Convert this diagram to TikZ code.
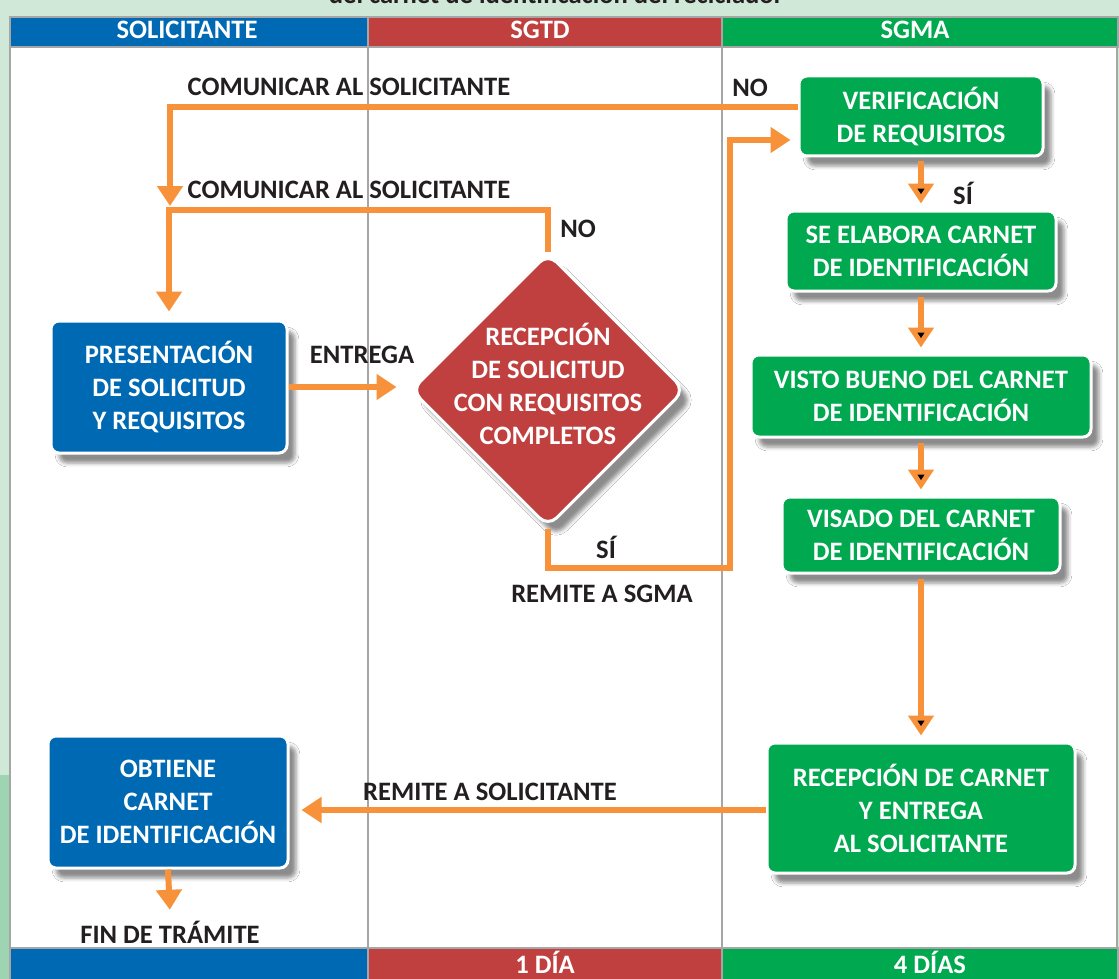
\documentclass[tikz,border=0pt]{standalone}
\usepackage{fontspec}
\setmainfont{Carlito}
\usetikzlibrary{arrows.meta,shapes.geometric,shadows.blur}

\definecolor{azul}{HTML}{0069B4}
\definecolor{rojo}{HTML}{C0403F}
\definecolor{verde}{HTML}{00A94F}
\definecolor{naranja}{HTML}{F7923A}
\definecolor{fondo}{HTML}{CFE8D7}
\definecolor{fondoosc}{HTML}{9FD4B2}
\definecolor{rejilla}{HTML}{A6A6A6}
\definecolor{texto}{HTML}{231F20}

\begin{document}
\begin{tikzpicture}[x=0.5pt,y=-0.5pt,
        font=\fontsize{13.3}{16.5}\selectfont\bfseries,
        celda/.style={draw=rejilla,line width=1pt,text=white,inner sep=0pt},
        caja/.style={draw=white,line width=1.5pt,rounded corners=4pt,text=white,align=center,
            blur shadow={shadow xshift=4pt,shadow yshift=-5pt,shadow opacity=45}},
        decision/.style={diamond,aspect=1,draw=white,line width=1.5pt,rounded corners=6pt,
            fill=rojo,inner sep=0pt,minimum size=137pt,
            blur shadow={shadow xshift=4pt,shadow yshift=-5pt,shadow opacity=45}},
        flecha/.style={draw=naranja,line width=3pt,-{Triangle[width=12.5pt,length=10pt]}},
        rotulo/.style={text=texto}]
    \useasboundingbox (0,0) rectangle (1119,979);
    % fondo y carriles
    \fill[fondo] (0,0) rectangle (1119,979);
    \fill[fondoosc] (0,775) rectangle (10,979);
    \begin{scope}
        \clip (0,0) rectangle (1119,17);
        \node[rotulo,anchor=base] at (556,4)(titulo){del carnet de identificación del reciclador};
    \end{scope}
    \draw[rejilla,fill=white,line width=1pt] (10,47) rectangle (1117,948);
    \draw[rejilla,line width=1pt] (368,47) -- (368,948) (722,47) -- (722,948);

    \node[celda,fill=azul,minimum width=179pt,minimum height=15pt] at (189,32)(hsol){};
    \node[celda,fill=rojo,minimum width=177pt,minimum height=15pt] at (545,32)(hsgtd){};
    \node[celda,fill=verde,minimum width=198pt,minimum height=15pt] at (920,32)(hsgma){};
    \node[text=white] at (187,30)(tsol){SOLICITANTE};
    \node[text=white] at (540,30)(tsgtd){SGTD};
    \node[text=white] at (915,30)(tsgma){SGMA};
    \node[celda,fill=azul,minimum width=179pt,minimum height=17pt] at (189,965)(psol){};
    \node[celda,fill=rojo,minimum width=177pt,minimum height=17pt] at (545,965)(psgtd){};
    \node[celda,fill=verde,minimum width=198pt,minimum height=17pt] at (920,965)(psgma){};
    \node[text=white] at (545,962)(tdia1){1 DÍA};
    \node[text=white] at (930,962)(tdia4){4 DÍAS};

    % actividades
    \node[caja,fill=azul,minimum width=118pt,minimum height=66pt] at (169,387)(pres){PRESENTACIÓN\\DE SOLICITUD\\Y REQUISITOS};
    \node[decision,label={[text=white,align=center,yshift=3pt]center:{RECEPCIÓN\\DE SOLICITUD\\CON REQUISITOS\\COMPLETOS}}] at (548,390)(recsol){};
    \node[caja,fill=verde,minimum width=122pt,minimum height=40pt] at (921,116)(verif){VERIFICACIÓN\\DE REQUISITOS};
    \node[caja,fill=verde,minimum width=135pt,minimum height=40pt] at (921,251)(elab){SE ELABORA CARNET\\DE IDENTIFICACIÓN};
    \node[caja,fill=verde,minimum width=170pt,minimum height=41pt] at (921,396)(visto){VISTO BUENO DEL CARNET\\DE IDENTIFICACIÓN};
    \node[caja,fill=verde,minimum width=139pt,minimum height=38pt] at (921,535)(visado){VISADO DEL CARNET\\DE IDENTIFICACIÓN};
    \node[caja,fill=verde,minimum width=154pt,minimum height=65pt] at (921,808)(recar){RECEPCIÓN DE CARNET\\Y ENTREGA\\AL SOLICITANTE};
    \node[caja,fill=azul,minimum width=120pt,minimum height=66pt] at (168,802)(obt){OBTIENE\\CARNET\\DE IDENTIFICACIÓN};

    \coordinate (com1) at (170,206);
    \coordinate (com2) at (548,210);
    \coordinate (remi) at (730,568);

    % textos de las flechas
    \node[rotulo] at (349,87)(lcom1){COMUNICAR AL SOLICITANTE};
    \node[rotulo] at (750,88)(lno1){NO};
    \node[rotulo] at (349,190)(lcom2){COMUNICAR AL SOLICITANTE};
    \node[rotulo] at (578,229)(lno2){NO};
    \node[rotulo] at (362,355)(lent){ENTREGA};
    \node[rotulo] at (606,547)(lsi1){SÍ};
    \node[rotulo] at (602,594)(lrem){REMITE A SGMA};
    \node[rotulo] at (963,193)(lsi2){SÍ};
    \node[rotulo] at (490,792)(lrsol){REMITE A SOLICITANTE};
    \node[rotulo] at (170,932)(fin){FIN DE TRÁMITE};

    \path[flecha] ([yshift=4.5pt]verif.west) -| (com1);
    \path[flecha,shorten >=4pt] (recsol.north) -- (com2) -| (pres.north);
    \path[flecha,shorten >=6.5pt] (pres.east) -- (pres.east -| recsol.west);
    \path[flecha,shorten >=3.5pt] (recsol.south) |- (remi) |- ([yshift=-12pt]verif.west);
    \path[flecha,shorten >=3pt,shorten <=2pt]
        (verif) edge (elab)
        (elab) edge (visto)
        (visto) edge (visado)
        (visado) edge (recar);
    \path[flecha,shorten >=6pt] ([yshift=-1pt]recar.west) -- ([yshift=-1pt]recar.west -| obt.east);
    \path[flecha,shorten >=2pt] (obt.south) -- (fin.north);
\end{tikzpicture}
\end{document}
